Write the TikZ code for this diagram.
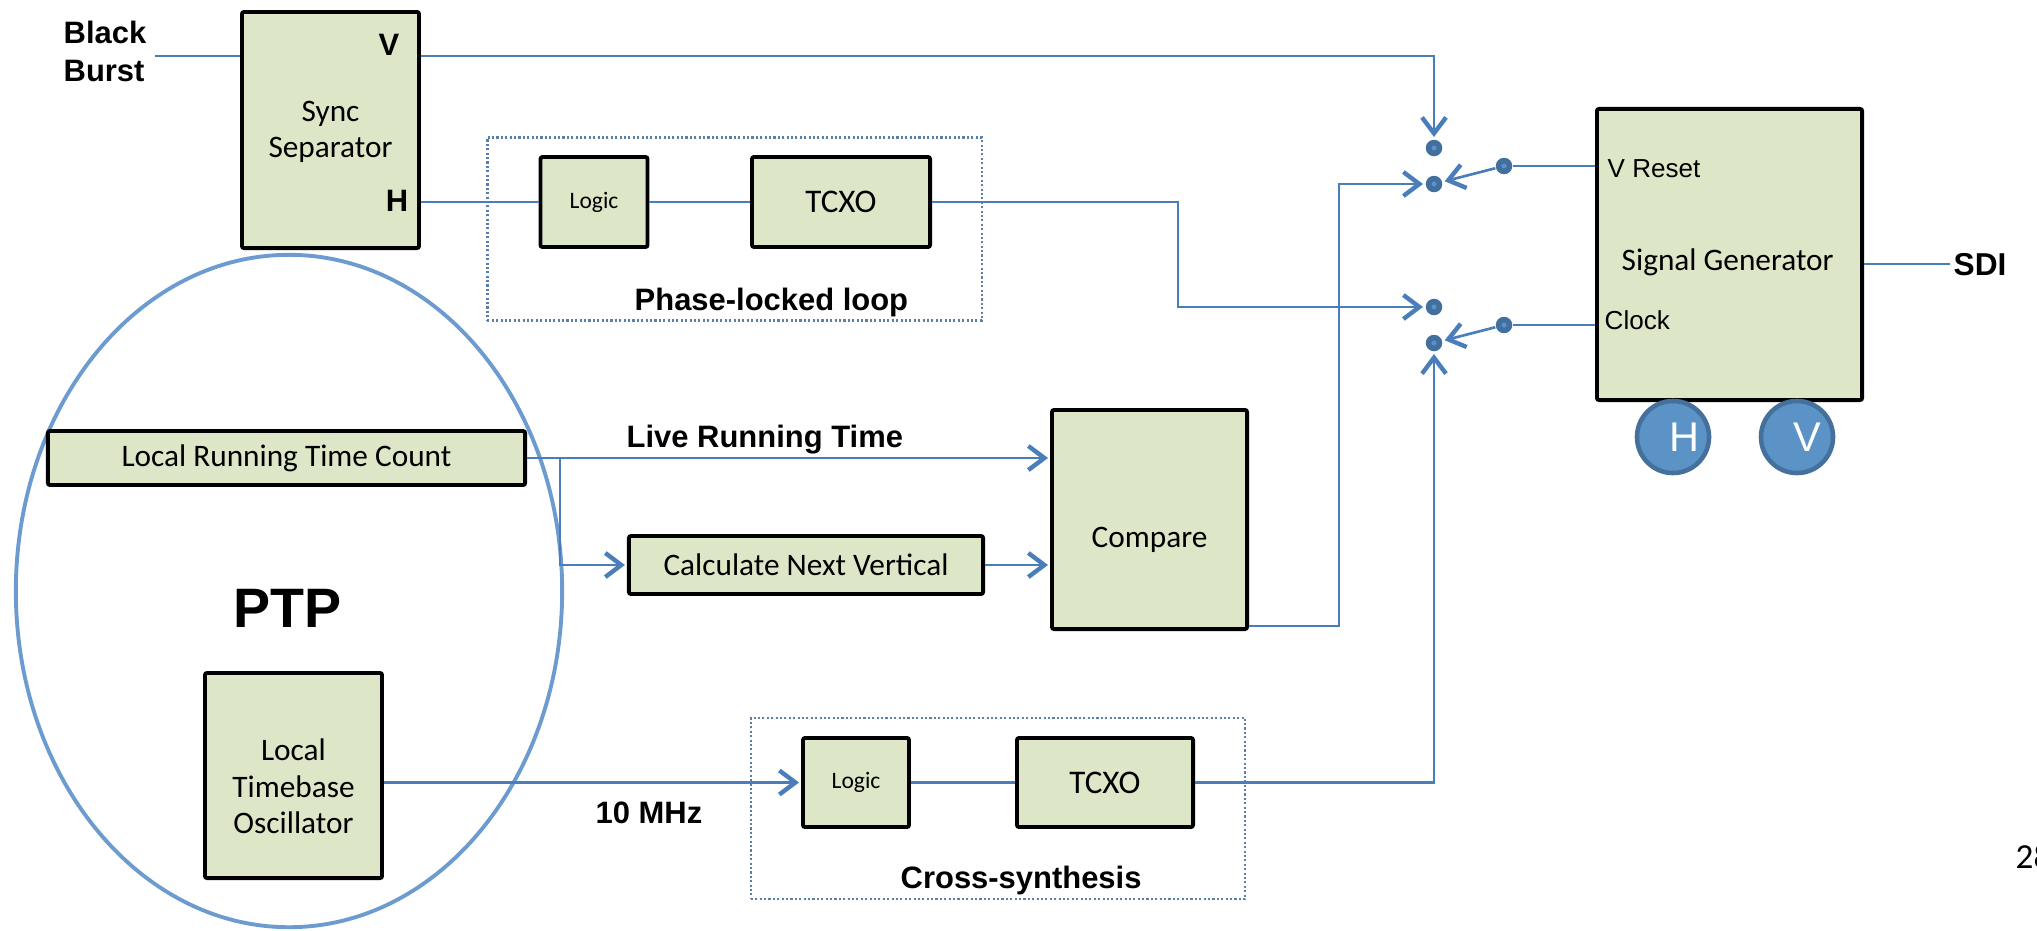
\documentclass[tikz,border=0pt]{standalone}
\usepackage{fontspec}
\setmainfont{Carlito}
\newfontfamily\arialf{Liberation Sans}
\usetikzlibrary{arrows.meta,calc}
\definecolor{boxfill}{HTML}{DDE7C8}
\definecolor{lineblue}{HTML}{4A7EBB}
\definecolor{dotblue}{HTML}{41709F}
\definecolor{dotin}{HTML}{5F8FC8}
\definecolor{ellcol}{HTML}{6C9BD0}
\definecolor{dotcol}{HTML}{5A7FA8}
\definecolor{hvfill}{HTML}{5B93C7}
\definecolor{hvdraw}{HTML}{46709C}
\tikzset{
  box/.style={draw=black, line width=1.1pt, fill=boxfill, rounded corners=0.6pt, inner sep=0pt, align=center,
    font=\fontsize{8.9}{10.4}\selectfont},
  inlabel/.style={label={[font=\fontsize{8.9}{10.4}\selectfont, align=center, inner sep=0pt, yshift=#1]center:}},
  conn/.style={draw=lineblue, line width=0.75pt},
  arr/.style={conn, -{Straight Barb[length=1.6mm, width=2.4mm, line width=1.25pt]}, shorten >=0.2mm},
  dotnode/.style={circle, fill=dotblue, minimum size=1.65mm, inner sep=0pt,
    path picture={\fill[dotin] (path picture bounding box.center) circle (0.25mm);}},
  grp/.style={draw=dotcol, line width=0.65pt, dash pattern=on 0.6pt off 0.65pt, inner sep=0pt},
  bold/.style={inner sep=0pt, font=\arialf\bfseries\fontsize{8.8}{10.8}\selectfont},
  reg/.style={inner sep=0pt, font=\arialf\fontsize{7.4}{9}\selectfont},
  hv/.style={circle, fill=hvfill, draw=hvdraw, line width=1.3pt, minimum size=7.2mm, inner sep=0pt},
  hvtext/.style={inner sep=0pt, text=white, font=\arialf\fontsize{11.8}{12}\selectfont},
}
\begin{document}
\begin{tikzpicture}[x=0.01cm, y=-0.01cm]
\useasboundingbox (0,0) rectangle (2037,930);
% PTP ellipse
\draw[draw=ellcol, line width=1.1pt, fill=white] (289,591) ellipse [x radius=2.73cm, y radius=3.36cm];
% dotted groups
\node[grp, minimum width=4.94cm, minimum height=1.83cm] (pll) at (734.5,229) {};
\node[grp, minimum width=4.94cm, minimum height=1.81cm] (cs) at (998,808.5) {};
% boxes
\node[box, minimum width=1.77cm, minimum height=2.36cm, label={[font=\fontsize{8.9}{10.4}\selectfont, align=center, inner sep=0pt, yshift=-0.2mm]center:Sync\\Separator}] (sync) at (330.5,130) {};
\node[box, minimum width=1.07cm, minimum height=0.90cm, font=\fontsize{6.7}{8}\selectfont] (logic1) at (594,202) {Logic};
\node[box, minimum width=1.78cm, minimum height=0.90cm, font=\fontsize{9.4}{11}\selectfont] (tcxo1) at (841,202) {TCXO};
\node[box, minimum width=2.65cm, minimum height=2.91cm] (siggen) at (1729.5,254.5) {};
\node[box, minimum width=4.77cm, minimum height=0.54cm] (lrtc) at (286.5,458) {Local Running Time Count};
\node[box, minimum width=3.54cm, minimum height=0.58cm] (calc) at (806,565) {Calculate Next Vertical};
\node[box, minimum width=1.95cm, minimum height=2.19cm, label={[font=\fontsize{8.9}{10.4}\selectfont, inner sep=0pt, yshift=-2mm]center:Compare}] (compare) at (1149.5,519.5) {};
\node[box, minimum width=1.77cm, minimum height=2.05cm, label={[font=\fontsize{8.9}{10.4}\selectfont, align=center, inner sep=0pt, yshift=-1.1mm]center:Local\\Timebase\\Oscillator}] (lto) at (293.5,775.5) {};
\node[box, minimum width=1.06cm, minimum height=0.89cm, font=\fontsize{6.7}{8}\selectfont] (logic2) at (856,782.5) {Logic};
\node[box, minimum width=1.76cm, minimum height=0.89cm, font=\fontsize{9.4}{11}\selectfont] (tcxo2) at (1105,782.5) {TCXO};
% H V circles
\node[hv] (hc) at (1673,437) {};
\node[hv] (vc) at (1797,437) {};
\node[hvtext] (ht) at (1684,437) {H};
\node[hvtext] (vt) at (1807,437) {V};
% switch dots
\node[dotnode] (s1top) at (1434,148) {};
\node[dotnode] (s1c) at (1434,184) {};
\node[dotnode] (s1piv) at (1504,166) {};
\node[dotnode] (s2top) at (1434,307) {};
\node[dotnode] (s2c) at (1434,343) {};
\node[dotnode] (s2piv) at (1504,325) {};
% texts
\node[bold, anchor=west, align=left] (bb) at (63,51) {Black\\Burst};
\node[bold, anchor=east] (vlab) at (400,45) {V};
\node[bold, anchor=east] (hlab) at (409,201) {H};
\node[bold, anchor=base west] (plltxt) at (634,310) {Phase-locked loop};
\node[bold, anchor=base west] (cstxt) at (900,888) {Cross-synthesis};
\node[bold, anchor=base west] (lrttxt) at (626,447) {Live Running Time};
\node[bold, anchor=base west] (mhz) at (595,823) {10 MHz};
\node[bold, anchor=base west, font=\arialf\bfseries\fontsize{15.8}{18}\selectfont] (ptp) at (233,627) {PTP};
\node[bold, anchor=base west, font=\arialf\bfseries\fontsize{9}{11}\selectfont] (sdi) at (1953,275) {SDI};
\node[reg, anchor=base west] (vreset) at (1607,177) {V Reset};
\node[reg, anchor=base west] (clock) at (1604,329) {Clock};
\node[inner sep=0pt, anchor=base west, font=\fontsize{8.9}{10.6}\selectfont] (sgtxt) at (1621,270) {Signal Generator};
\node[inner sep=0pt, anchor=base west, font=\fontsize{10}{12}\selectfont] (pg) at (2015,868) {28};
% coordinates
\coordinate (bbin) at (155,56);
\coordinate (vy) at (0,56);
\coordinate (j1) at (1178,0);
\coordinate (j2) at (1339,626);
\coordinate (br) at (560,458);
% connectors
\draw[conn] (bbin) -- (sync.west |- bbin);
\draw[arr] (sync.east |- vy) -| (s1top);
\draw[conn] (sync.east |- logic1.west) -- (logic1.west);
\draw[conn] (logic1) -- (tcxo1);
\draw[arr] (tcxo1.east) -- (tcxo1.east -| j1) |- (s2top);
\draw[conn] (s1piv) -- (siggen.west |- s1piv);
\draw[conn] (s2piv) -- (siggen.west |- s2piv);
\draw[arr] (s1piv) -- (s1c);
\draw[arr] (s2piv) -- (s2c);
\draw[arr] (compare.east |- j2) -- (j2) |- (s1c);
\draw[arr] (tcxo2.east) -| (s2c);
\draw[conn] (siggen.east |- sdi.west) -- ([xshift=-0.3mm]sdi.west);
\draw[arr] (lrtc.east) -- (compare.west |- lrtc.east);
\draw[arr] (br) |- (calc.west);
\draw[arr] (calc.east) -- (compare.west |- calc.east);
\draw[arr] (lto.east |- logic2.west) -- (logic2.west);
\draw[conn] (logic2) -- (tcxo2);
\end{tikzpicture}
\end{document}
